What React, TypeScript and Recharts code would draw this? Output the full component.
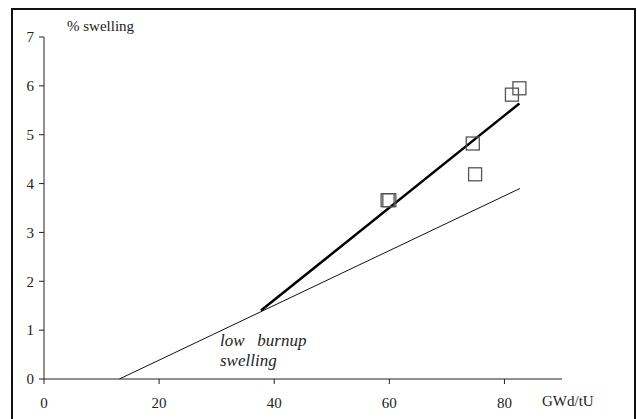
import { ComposedChart, Line, Scatter, XAxis, YAxis } from 'recharts';

// measured points (GWd/tU, % swelling)
const measuredX = [59.7, 60.0, 74.5, 74.9, 81.3, 82.6];
const measuredY = [3.66, 3.66, 4.82, 4.19, 5.82, 5.95];

// fitted high burnup line and low burnup swelling line
const fitX = [37.7, 82.6];
const fitY = [1.4, 5.64];
const lowX = [13.1, 82.7];
const lowY = [0, 3.9];

const xTicks = [0, 20, 40, 60, 80];
const yTicks = [0, 1, 2, 3, 4, 5, 6, 7];

const measured = measuredX.map((x, i) => ({ x, y: measuredY[i] }));
const fitLine = fitX.map((x, i) => ({ x, y: fitY[i] }));
const lowLine = lowX.map((x, i) => ({ x, y: lowY[i] }));

const font = '"Times New Roman", "Liberation Serif", "DejaVu Serif", serif';
const tickStyle = { fill: '#222', fontSize: 15, fontFamily: font };

const Square = (props: any) => {
  const { cx, cy } = props;
  if (cx == null || cy == null) return null;
  return (
    <rect
      x={cx - 6.5}
      y={cy - 6.5}
      width={13}
      height={13}
      fill="none"
      stroke="#555"
      strokeWidth={1.3}
    />
  );
};

const App = () => {
  return (
    <div
      style={{
        position: 'absolute',
        left: 0,
        top: 0,
        width: 637,
        height: 419,
        background: '#fff',
        overflow: 'hidden',
        fontFamily: font,
      }}
    >
      <div
        style={{
          position: 'absolute',
          left: 11,
          top: 8,
          width: 621,
          height: 430,
          border: '2px solid #111',
        }}
      />
      <ComposedChart
        width={637}
        height={419}
        margin={{ top: 37, right: 75, left: 14, bottom: 10 }}
        style={{ position: 'absolute', left: 0, top: 0, fontFamily: font }}
      >
        <XAxis
          dataKey="x"
          type="number"
          domain={[0, 90]}
          ticks={xTicks}
          allowDataOverflow
          stroke="#222"
          tick={tickStyle}
          tickSize={5}
          tickMargin={13}
          height={30}
        />
        <YAxis
          type="number"
          domain={[0, 7]}
          ticks={yTicks}
          stroke="#222"
          tick={tickStyle}
          tickSize={5}
          tickMargin={5}
          width={30}
        />
        <Line
          data={lowLine}
          dataKey="y"
          type="linear"
          stroke="#111"
          strokeWidth={1}
          dot={false}
          isAnimationActive={false}
        />
        <Line
          data={fitLine}
          dataKey="y"
          type="linear"
          stroke="#000"
          strokeWidth={2.5}
          dot={false}
          isAnimationActive={false}
        />
        <Scatter
          data={measured}
          dataKey="y"
          shape={<Square />}
          isAnimationActive={false}
        />
      </ComposedChart>
      <div style={{ position: 'absolute', left: 67, top: 18, fontSize: 15, color: '#222' }}>
        % swelling
      </div>
      <div
        style={{
          position: 'absolute',
          left: 220,
          top: 331,
          fontSize: 17,
          fontStyle: 'italic',
          lineHeight: '20px',
          color: '#222',
        }}
      >
        low&nbsp;&nbsp;&nbsp;burnup
        <br />
        swelling
      </div>
      <div style={{ position: 'absolute', left: 542, top: 393, fontSize: 15, color: '#222' }}>
        GWd/tU
      </div>
    </div>
  );
};

export default App;
